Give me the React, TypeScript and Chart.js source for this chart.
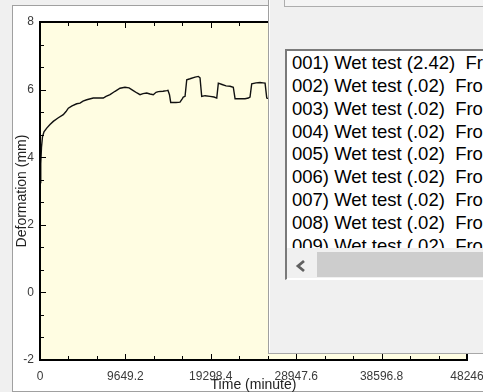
import React, { useEffect, useRef } from 'react';
import { Chart, registerables } from 'chart.js';

Chart.register(...registerables);

// ---- data ----
const TIME_MIN = [
  0, 60, 110, 170, 280, 450, 760, 1130, 1500, 2030,
  2630, 2940, 3200, 3620, 4150, 4520, 4860, 5280, 6020, 7150,
  7460, 7910, 8480, 9040, 9600, 10060, 10540, 10960, 11300, 11640,
  12060, 12430, 12800, 13110, 13370, 13900, 14320, 14460, 14630, 14770,
  15370, 15820, 16050, 16190, 16390, 16580, 16950, 17520, 17890, 18080,
  18270, 18650, 19210, 19660, 19970, 20150, 20570, 21020, 21470, 21840,
  22040, 22600, 23170, 23540, 23730, 23920, 24410, 24860, 25200, 25430,
  25620, 25990, 26560,
];
const DEFORMATION_MM = [
  3.25, 3.3, 3.8, 4.3, 4.6, 4.75, 4.86, 4.97, 5.06, 5.16,
  5.26, 5.35, 5.45, 5.52, 5.58, 5.6, 5.66, 5.7, 5.75, 5.75,
  5.8, 5.85, 5.95, 6.04, 6.07, 6.05, 5.97, 5.9, 5.85, 5.88,
  5.9, 5.87, 5.85, 5.92, 5.94, 5.95, 5.97, 5.98, 5.85, 5.62,
  5.62, 5.63, 5.72, 5.78, 5.8, 6.29, 6.32, 6.37, 6.39, 6.35,
  5.8, 5.82, 5.8, 5.78, 5.75, 6.19, 6.15, 6.11, 6.1, 6.07,
  5.73, 5.73, 5.73, 5.75, 5.78, 6.17, 6.2, 6.21, 6.2, 6.19,
  5.75, 5.72, 5.72,
];
const X_TICKS = [0, 9649.2, 19298.4, 28947.6, 38596.8, 48246];
const Y_TICKS = [-2, 0, 2, 4, 6, 8];
const MINOR_PER_MAJOR = 3;
const X_TITLE = 'Time (minute)';
const Y_TITLE = 'Deformation (mm)';
const LIST_ITEMS = [
  '001) Wet test (2.42)  From',
  '002) Wet test (.02)  From',
  '003) Wet test (.02)  From',
  '004) Wet test (.02)  From',
  '005) Wet test (.02)  From',
  '006) Wet test (.02)  From',
  '007) Wet test (.02)  From',
  '008) Wet test (.02)  From',
  '009) Wet test (.02)  From',
];

const FONT = "'Liberation Sans', Arial, sans-serif";

function withMinors(majors: number[]): number[] {
  const out: number[] = [];
  for (let i = 0; i < majors.length; i++) {
    out.push(majors[i]);
    if (i < majors.length - 1) {
      const step = (majors[i + 1] - majors[i]) / MINOR_PER_MAJOR;
      for (let k = 1; k < MINOR_PER_MAJOR; k++) out.push(majors[i] + step * k);
    }
  }
  return out;
}
const isMajor = (majors: number[], v: number) => majors.some((m) => Math.abs(m - v) < 1e-6);
const fmt = (v: number) => String(Math.round(v * 10) / 10);

const framePlugin = {
  id: 'frame',
  beforeDatasetsDraw(chart: any) {
    const { ctx, chartArea: a } = chart;
    ctx.save();
    ctx.fillStyle = '#fffde2';
    ctx.fillRect(a.left, a.top, a.right - a.left, a.bottom - a.top);
    ctx.restore();
  },
  afterDraw(chart: any) {
    const { ctx, chartArea: a, scales } = chart;
    ctx.save();
    ctx.strokeStyle = '#000';
    ctx.lineWidth = 1;
    ctx.beginPath();
    for (const t of scales.x.ticks) {
      const px = Math.round(scales.x.getPixelForValue(t.value)) + 0.5;
      const len = isMajor(X_TICKS, t.value) ? 6 : 4;
      ctx.moveTo(px, a.bottom); ctx.lineTo(px, a.bottom - len);
      ctx.moveTo(px, a.top); ctx.lineTo(px, a.top + len);
    }
    for (const t of scales.y.ticks) {
      const py = Math.round(scales.y.getPixelForValue(t.value)) + 0.5;
      const len = isMajor(Y_TICKS, t.value) ? 6 : 4;
      ctx.moveTo(a.left, py); ctx.lineTo(a.left + len, py);
      ctx.moveTo(a.right, py); ctx.lineTo(a.right - len, py);
    }
    ctx.stroke();
    ctx.lineWidth = 2;
    ctx.strokeRect(a.left, a.top, a.right - a.left, a.bottom - a.top);
    ctx.restore();
  },
};

function ChartCanvas() {
  const ref = useRef<HTMLCanvasElement>(null);
  useEffect(() => {
    if (!ref.current) return;
    const data = TIME_MIN.map((t, i) => ({ x: t, y: DEFORMATION_MM[i] }));
    const chart = new Chart(ref.current, {
      type: 'line',
      data: {
        datasets: [
          {
            data,
            borderColor: '#111111',
            borderWidth: 1.4,
            pointRadius: 0,
            tension: 0,
            fill: false,
          },
        ],
      },
      options: {
        animation: false,
        responsive: false,
        maintainAspectRatio: false,
        layout: { padding: { left: 0, top: 22, right: 16, bottom: 0 } },
        plugins: { legend: { display: false }, tooltip: { enabled: false } },
        events: [],
        scales: {
          x: {
            type: 'linear',
            min: X_TICKS[0],
            max: X_TICKS[X_TICKS.length - 1],
            afterBuildTicks: (s: any) => {
              s.ticks = withMinors(X_TICKS).map((v) => ({ value: v }));
            },
            afterFit: (s: any) => {
              s.height = 32;
              s.paddingLeft = 0;
              s.paddingRight = 0;
            },
            grid: { display: false, drawTicks: false },
            border: { display: false },
            ticks: {
              autoSkip: false,
              maxRotation: 0,
              minRotation: 0,
              padding: 9.5,
              color: '#3a3a3a',
              font: { family: FONT, size: 12 },
              callback: (v: any) => (isMajor(X_TICKS, Number(v)) ? fmt(Number(v)) : ''),
            },
            title: {
              display: true,
              text: X_TITLE,
              color: '#222',
              font: { family: FONT, size: 14 },
              padding: { top: 0, bottom: -1.5 },
            },
          },
          y: {
            type: 'linear',
            min: Y_TICKS[0],
            max: Y_TICKS[Y_TICKS.length - 1],
            afterBuildTicks: (s: any) => {
              s.ticks = withMinors(Y_TICKS).map((v) => ({ value: v }));
            },
            afterFit: (s: any) => {
              s.width = 40;
            },
            grid: { display: false, drawTicks: false },
            border: { display: false },
            ticks: {
              autoSkip: false,
              padding: 6,
              color: '#3a3a3a',
              font: { family: FONT, size: 12 },
              callback: (v: any) => (isMajor(Y_TICKS, Number(v)) ? fmt(Number(v)) : ''),
            },
            title: {
              display: true,
              text: Y_TITLE,
              color: '#222',
              font: { family: FONT, size: 14 },
              padding: { top: 13.5, bottom: 0 },
            },
          },
        },
      },
      plugins: [framePlugin],
    } as any);
    return () => chart.destroy();
  }, []);
  return (
    <canvas
      ref={ref}
      width={483}
      height={392}
      style={{ position: 'absolute', left: 0, top: 0, width: 483, height: 392 }}
    />
  );
}

function Dialog() {
  return (
    <div
      style={{
        position: 'absolute',
        left: 268,
        top: 0,
        width: 215,
        height: 354,
        boxSizing: 'border-box',
        background: '#f0f0f0',
        borderLeft: '1px solid #a0a0a0',
        borderBottom: '1px solid #a8a8a8',
        boxShadow: 'inset 1px 0 0 #ffffff',
        overflow: 'hidden',
      }}
    >
      <div
        style={{
          position: 'absolute',
          left: 15,
          top: -2,
          width: 300,
          height: 9,
          boxSizing: 'border-box',
          border: '1px solid #adadad',
          background: '#f4f4f4',
        }}
      />
      <div
        style={{
          position: 'absolute',
          left: 16,
          top: 49,
          width: 300,
          height: 231,
          boxSizing: 'border-box',
          background: '#ffffff',
          borderLeft: '2px solid #7a7a7a',
          borderTop: '2px solid #7a7a7a',
          borderBottom: '1px solid #ffffff',
          overflow: 'hidden',
        }}
      >
        <div
          style={{
            position: 'absolute',
            left: 5,
            top: 1,
            fontFamily: FONT,
            fontSize: 18.5,
            lineHeight: '22.86px',
            color: '#000',
            whiteSpace: 'pre',
          }}
        >
          {LIST_ITEMS.map((s) => (
            <div key={s}>{s}</div>
          ))}
        </div>
        <div
          style={{
            position: 'absolute',
            left: 0,
            top: 197,
            width: 300,
            height: 30,
            background: '#f0f0f0',
          }}
        >
          <svg width={30} height={30} style={{ position: 'absolute', left: 0, top: 0 }}>
            <polyline points="17,13 11,18 17,23" fill="none" stroke="#606060" strokeWidth={2.8} />
          </svg>
          <div
            style={{
              position: 'absolute',
              left: 30,
              top: 4,
              width: 270,
              height: 25,
              background: '#cdcdcd',
            }}
          />
        </div>
      </div>
    </div>
  );
}

export default function App() {
  return (
    <div
      style={{
        position: 'fixed',
        left: 0,
        top: 0,
        width: 483,
        height: 392,
        background: '#f0f0f0',
        overflow: 'hidden',
      }}
    >
      <div
        style={{
          position: 'absolute',
          left: 12,
          top: 5,
          width: 480,
          height: 385,
          background: '#ffffff',
          borderLeft: '1px solid #a0a0a0',
          borderTop: '1px solid #a0a0a0',
          borderBottom: '1px solid #a0a0a0',
        }}
      />
      <ChartCanvas />
      <Dialog />
    </div>
  );
}
